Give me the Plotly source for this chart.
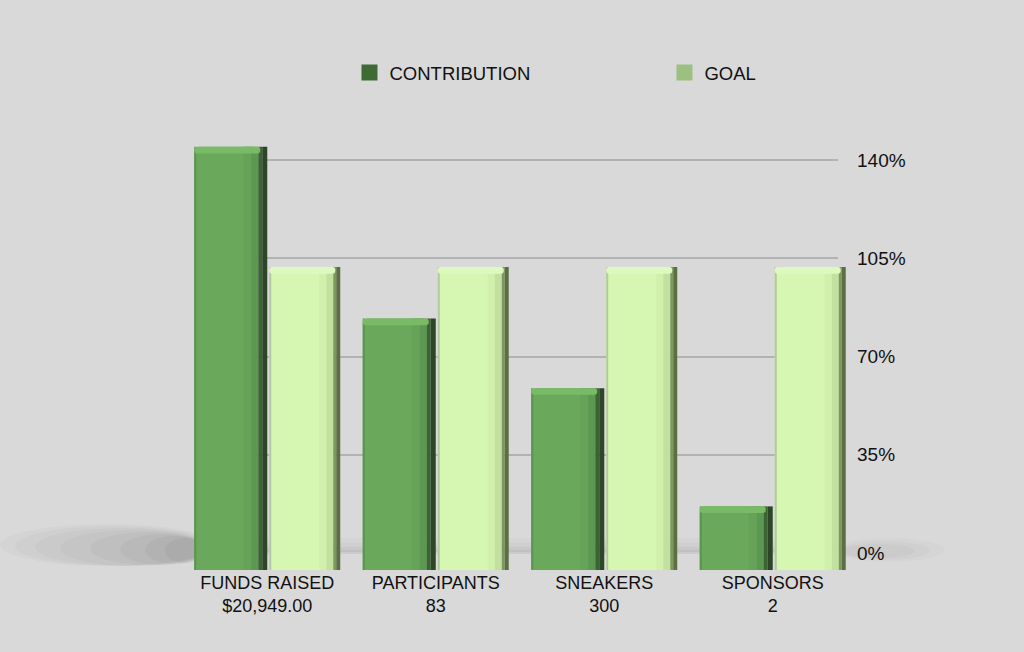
import plotly.graph_objects as go

# ---------------- data ----------------
categories = ["FUNDS RAISED<br>$20,949.00", "PARTICIPANTS<br>83", "SNEAKERS<br>300", "SPONSORS<br>2"]
contribution_pct = [139.7, 83, 60, 21]
goal_pct = [100, 100, 100, 100]
tick_vals = [0, 35, 70, 105, 140]
tick_text = ["0%", "35%", "70%", "105%", "140%"]
series_names = ["CONTRIBUTION", "GOAL"]
legend_colors = ["#3f6a35", "#9dbf82"]

# ---------------- geometry (style) ----------------
W, H = 1024, 652
ML, MR, MT, MB = 183, 167, 130, 82
PW = W - ML - MR
PH = H - MT - MB
CAT_PX = PW / 4.0  # pixels per category


def u(px):
    return px / CAT_PX


def px_x(px):
    return (px - ML) / PW


def px_y(py):
    return (H - MB - py) / PH


BG = "#d9d9d9"
FONT = "Liberation Sans, Arial, Helvetica, sans-serif"

fig = go.Figure()

# strips: (start px relative to category center, width px, color, cornerradius)
contrib_strips = [
    (-73, 64, "#6aa85b", 5),
    (-73, 2, "#5b9450", 0),
    (-24, 8, "#66a358", 0),
    (-16, 7, "#5d9852", 0),
    (-9, 4, "#3b6334", 0),
    (-5, 5, "#2c4627", 0),
]
goal_strips = [
    (2, 64, "#d6f7b1", 5),
    (2, 2, "#b0c99d", 0),
    (52, 7, "#d0f0ab", 0),
    (59, 7, "#c3e19e", 0),
    (66, 3, "#7c985f", 0),
    (69, 4, "#5b6f45", 0),
]


def add_strips(values, strips, top_color, top_start, top_w):
    for start, w, color, cr in strips:
        fig.add_trace(go.Bar(
            x=categories, y=values, offset=u(start), width=u(w),
            marker=dict(color=color, line=dict(width=0), cornerradius=cr),
            xaxis="x2", yaxis="y2", showlegend=False, hoverinfo="skip",
        ))
    # top bevel highlight
    fig.add_trace(go.Bar(
        x=categories, y=[2.2] * len(values), base=[v - 2.2 for v in values],
        offset=u(top_start), width=u(top_w),
        marker=dict(color=top_color, line=dict(width=0), cornerradius=4),
        xaxis="x2", yaxis="y2", showlegend=False, hoverinfo="skip",
    ))


add_strips(contribution_pct, contrib_strips, "#79ba67", -73, 66)
add_strips(goal_pct, goal_strips, "#def9c0", 2, 66)

# legend entries
for name, col in zip(series_names, legend_colors):
    fig.add_trace(go.Scatter(
        x=[None], y=[None], mode="markers", name=name,
        marker=dict(symbol="square", size=18, color=col),
        xaxis="x", yaxis="y", hoverinfo="skip",
    ))

# soft floor shadows (decoration)
shapes = []
left_layers = [
    (0, 215, 524, 566, 0.018), (15, 213, 526, 566, 0.02), (35, 212, 528, 566, 0.022),
    (60, 210, 530, 566, 0.025), (90, 208, 532, 565, 0.028), (120, 206, 534, 565, 0.03),
    (145, 205, 536, 564, 0.035), (165, 204, 538, 563, 0.04),
]
right_layers = [
    (835, 945, 538, 562, 0.015), (840, 930, 541, 560, 0.02), (842, 915, 544, 558, 0.025),
]
for (x0, x1, y0, y1, op) in left_layers + right_layers:
    shapes.append(dict(type="circle", xref="paper", yref="paper",
                       x0=px_x(x0), x1=px_x(x1), y0=px_y(y1), y1=px_y(y0),
                       fillcolor="black", opacity=op, line=dict(width=0), layer="below"))
# back-wall shadow band just above the floor line
for (y0, op) in [(538, 0.02), (543, 0.025), (547, 0.03), (550, 0.035)]:
    shapes.append(dict(type="rect", xref="paper", yref="paper",
                       x0=px_x(200), x1=px_x(840), y0=px_y(553), y1=px_y(y0),
                       fillcolor="black", opacity=op, line=dict(width=0), layer="below"))

fig.update_layout(
    width=W, height=H, autosize=False,
    margin=dict(l=ML, r=MR, t=MT, b=MB, pad=0),
    paper_bgcolor=BG, plot_bgcolor="rgba(0,0,0,0)",
    font=dict(family=FONT, size=18, color="#111111"),
    barmode="overlay",
    showlegend=True,
    legend=dict(orientation="h", x=0.247, y=px_y(73), xanchor="left", yanchor="middle",
                entrywidth=270, entrywidthmode="pixels",
                font=dict(size=18.5, color="#111111"), bgcolor="rgba(0,0,0,0)",
                itemclick=False, itemdoubleclick=False),
    xaxis=dict(domain=[px_x(200), px_x(838)], range=[0, 1], visible=False, fixedrange=True),
    yaxis=dict(anchor="x", side="right", range=[-6.06, 150.69],
               tickvals=tick_vals, ticktext=tick_text,
               showgrid=True, gridcolor="#b2b2b2", gridwidth=1.6,
               zeroline=True, zerolinecolor="#cbcbcb", zerolinewidth=1.5,
               showline=False, ticks="", ticklabelstandoff=18,
               tickfont=dict(size=19, color="#111111"), fixedrange=True),
    xaxis2=dict(domain=[0, 1], anchor="y2", type="category", range=[-0.5, 3.5],
                showgrid=False, zeroline=False, showline=False, ticks="",
                tickfont=dict(size=18, color="#111111"), fixedrange=True),
    yaxis2=dict(domain=[0, 1], anchor="x2", range=[0, PH / 3.03], visible=False, fixedrange=True),
    shapes=shapes,
)

fig.write_html(
    "out.html",
    config={"displayModeBar": False},
    post_script="document.body.style.margin='0';document.body.style.background='#d9d9d9';",
)
